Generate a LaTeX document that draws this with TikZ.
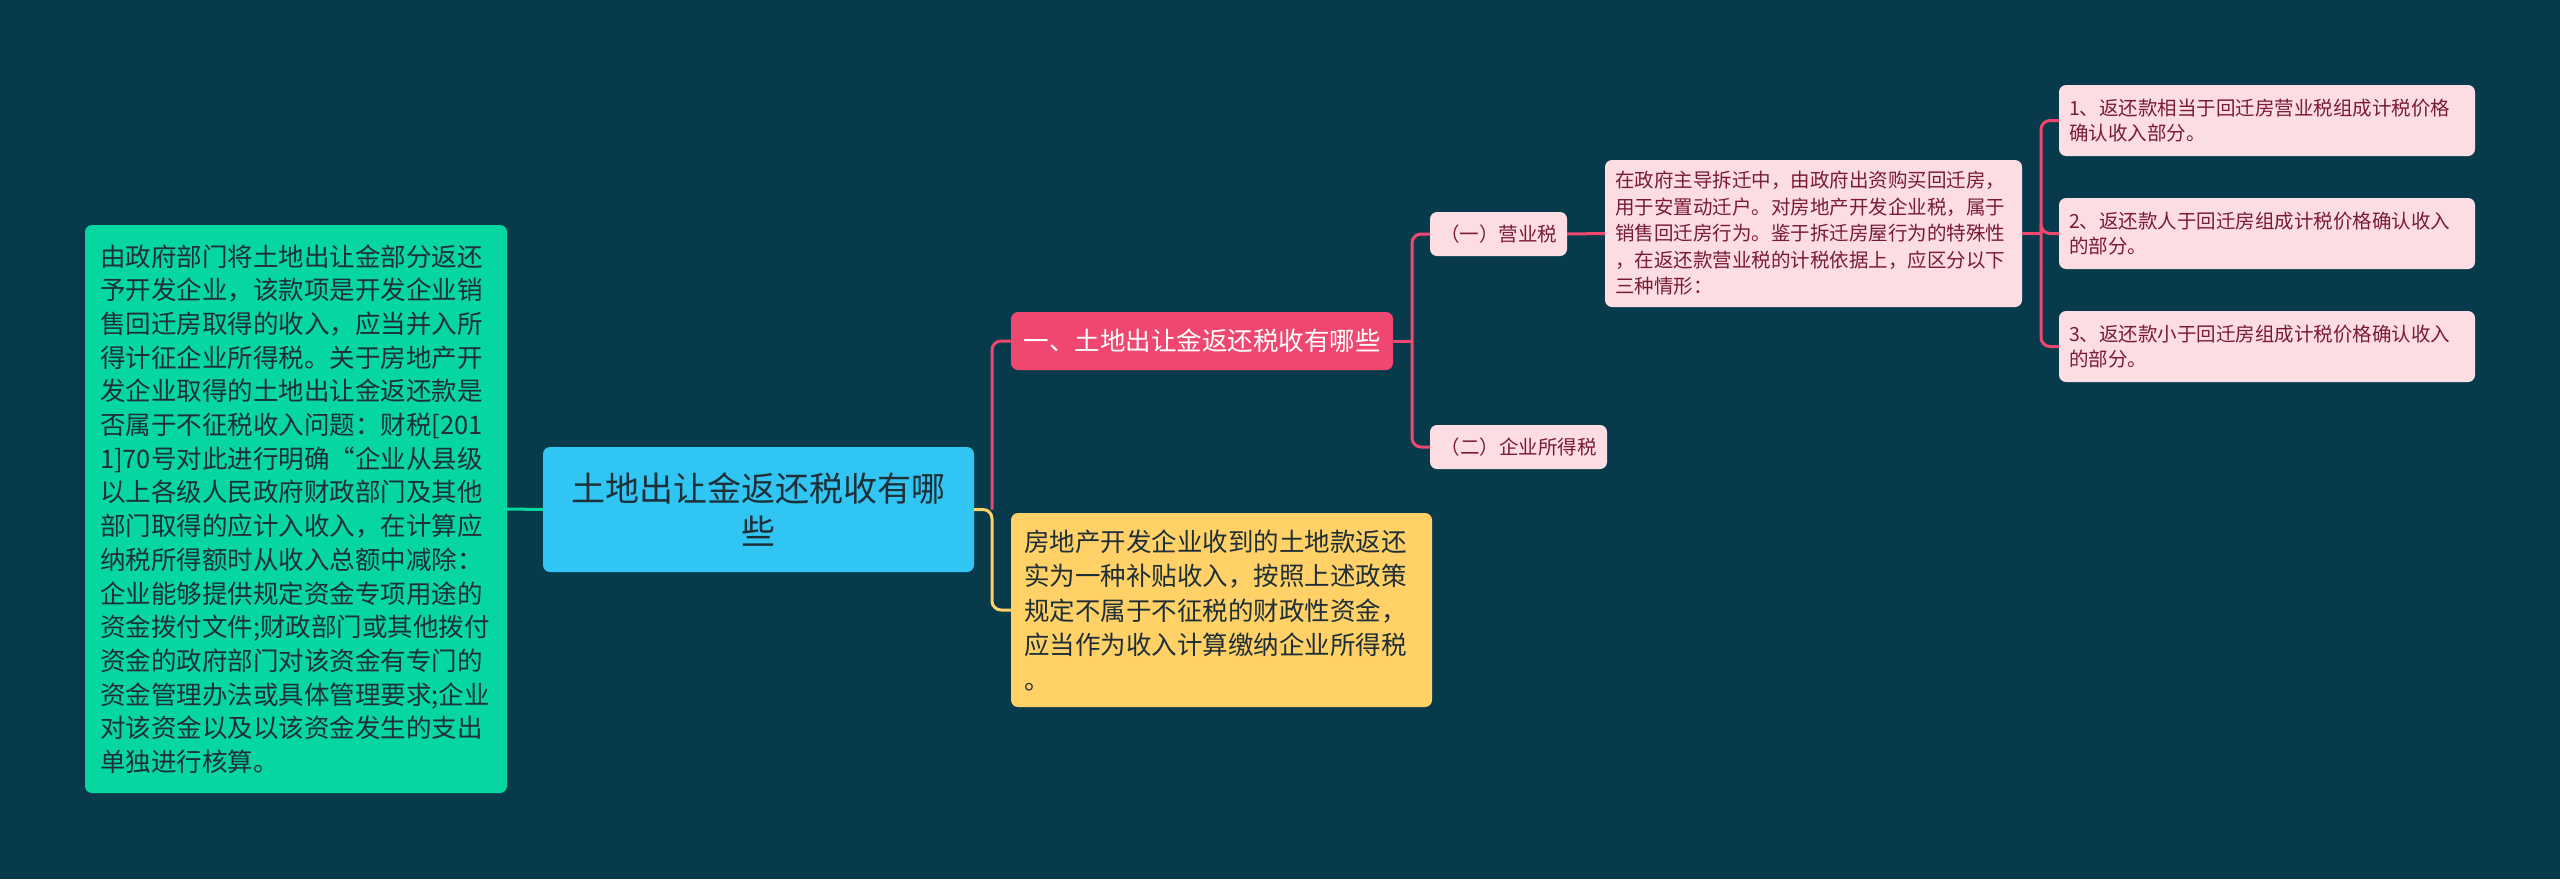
\documentclass[tikz,border=0pt]{standalone}
\usepackage{fontspec}
\setmainfont{Noto Sans CJK SC}
\definecolor{bgc}{HTML}{073B4C}
\definecolor{greenc}{HTML}{06D6A0}
\definecolor{bluec}{HTML}{30C5F3}
\definecolor{pinkc}{HTML}{EF476F}
\definecolor{yelc}{HTML}{FFD166}
\definecolor{lpinkc}{HTML}{FCDDE3}
\definecolor{maroonc}{HTML}{7A1B34}
\definecolor{darkc}{HTML}{1E2F38}
\newcommand\fsz[2]{\fontsize{#1pt}{#2pt}\selectfont}
\begin{document}
\begin{tikzpicture}[x=1pt,y=-1pt,
  box/.style={rounded corners=7pt, anchor=north west, inner ysep=0pt, outer sep=0pt},
  bigtext/.style={font=\fsz{25.5}{33.7}},
  smalltext/.style={font=\fsz{19.5}{26}},
  child/.style={box, fill=lpinkc, text=maroonc, smalltext},
  conn/.style={line width=3pt, rounded corners=9pt},
  pinkline/.style={conn, draw=pinkc},
  yelline/.style={conn, draw=yelc},
  grnline/.style={conn, draw=greenc}]
\fill[bgc] (0,0) rectangle (2560,879);
\useasboundingbox (0,0) rectangle (2560,879);

\node[box, fill=greenc, text=darkc, bigtext, inner xsep=15pt, text width=392pt,
      minimum height=568pt, align=left] (green) at (85,225)
{由政府部门将土地出让金部分返还\\
予开发企业，该款项是开发企业销\\
售回迁房取得的收入，应当并入所\\
得计征企业所得税。关于房地产开\\
发企业取得的土地出让金返还款是\\
否属于不征税收入问题：财税[201\\
1]70号对此进行明确“企业从县级\\
以上各级人民政府财政部门及其他\\
部门取得的应计入收入，在计算应\\
纳税所得额时从收入总额中减除：\\
企业能够提供规定资金专项用途的\\
资金拨付文件;财政部门或其他拨付\\
资金的政府部门对该资金有专门的\\
资金管理办法或具体管理要求;企业\\
对该资金以及以该资金发生的支出\\
单独进行核算。};

\node[box, fill=bluec, text=darkc, font=\fsz{34}{43}, inner xsep=20pt,
      text width=391pt, minimum height=125pt, align=center] (root) at (543,447)
{土地出让金返还税收有哪\\些};

\node[box, fill=pinkc, text=white, bigtext, inner xsep=0pt,
      minimum width=382pt, minimum height=58pt] (branch) at (1011,312)
{一、土地出让金返还税收有哪些};

\node[box, fill=yelc, text=darkc, font=\fsz{25.5}{34.5}, inner xsep=13pt,
      text width=395pt, minimum height=194pt, align=left] (yellow) at (1011,513)
{房地产开发企业收到的土地款返还\\
实为一种补贴收入，按照上述政策\\
规定不属于不征税的财政性资金，\\
应当作为收入计算缴纳企业所得税\\
。};

\node[child, inner xsep=0pt, minimum width=137pt, minimum height=44pt] (yi) at (1430,212)
{（一）营业税};
\node[child, inner xsep=0pt, minimum width=177pt, minimum height=44pt] (er) at (1430,425)
{（二）企业所得税};

\node[child, inner xsep=10pt, text width=397pt, minimum height=147pt, align=left,
      font=\fsz{19.5}{26.5}] (desc) at (1605,160)
{在政府主导拆迁中，由政府出资购买回迁房，\\
用于安置动迁户。对房地产开发企业税，属于\\
销售回迁房行为。鉴于拆迁房屋行为的特殊性\\
，在返还款营业税的计税依据上，应区分以下\\
三种情形：};

\node[child, inner xsep=10pt, text width=396pt, minimum height=71pt, align=left,
      font=\fsz{19.5}{24.5}] (i1) at (2059,85)
{1、返还款相当于回迁房营业税组成计税价格\\确认收入部分。};
\node[child, inner xsep=10pt, text width=396pt, minimum height=71pt, align=left,
      font=\fsz{19.5}{24.5}] (i2) at (2059,198)
{2、返还款人于回迁房组成计税价格确认收入\\的部分。};
\node[child, inner xsep=10pt, text width=396pt, minimum height=71pt, align=left,
      font=\fsz{19.5}{24.5}] (i3) at (2059,311)
{3、返还款小于回迁房组成计税价格确认收入\\的部分。};

% connectors
\draw[grnline] (green.east) -- (root.west);
\draw[pinkline] (root.east) ++(18,0) |- (branch.west);
\draw[yelline] (root.east) -- ++(18,0) |- (yellow.west);

\draw[pinkline] (branch.east) -- ++(19,0);
\draw[pinkline] (branch.east) ++(19,0) |- (yi.west);
\draw[pinkline] (branch.east) ++(19,0) |- (er.west);

\draw[pinkline] (yi.east) -- (desc.west);

\draw[pinkline] (desc.east) -- ++(19,0);
\draw[pinkline] (desc.east) ++(19,0) |- (i1.west);
\draw[pinkline] (desc.east) ++(19,0) |- (i2.west);
\draw[pinkline] (desc.east) ++(19,0) |- (i3.west);
\end{tikzpicture}
\end{document}
